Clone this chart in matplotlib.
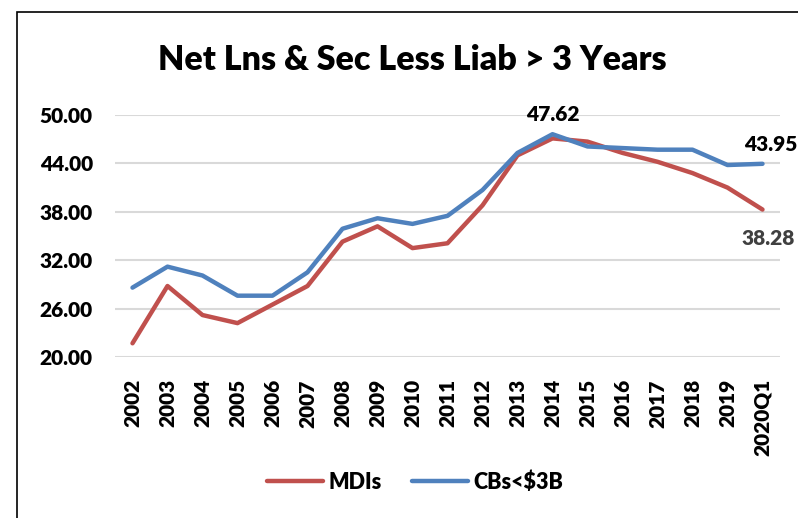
import matplotlib.pyplot as plt
from matplotlib.patches import Rectangle

plt.rcParams['font.family'] = ['Lato', 'DejaVu Sans']
plt.rcParams['font.weight'] = 'heavy'

periods = ["2002", "2003", "2004", "2005", "2006", "2007", "2008", "2009", "2010",
           "2011", "2012", "2013", "2014", "2015", "2016", "2017", "2018", "2019", "2020Q1"]
mdis = [21.7, 28.8, 25.2, 24.2, 26.5, 28.8, 34.3, 36.2, 33.5, 34.1,
        38.8, 45.0, 47.1, 46.7, 45.3, 44.2, 42.8, 41.0, 38.28]
cbs = [28.6, 31.2, 30.1, 27.6, 27.6, 30.5, 35.9, 37.2, 36.5, 37.5,
       40.7, 45.3, 47.62, 46.1, 45.9, 45.7, 45.7, 43.8, 43.95]
yticks = [20, 26, 32, 38, 44, 50]

red = "#C0504D"
blue = "#4F81BD"

fig = plt.figure(figsize=(7.98, 5.18), dpi=100)
ax = fig.add_axes([115 / 798, 1 - 357 / 518, (780 - 115) / 798, (357 - 115) / 518])

x = list(range(len(periods)))
ax.plot(x, mdis, color=red, lw=3.2, solid_capstyle="round", label="MDIs")
ax.plot(x, cbs, color=blue, lw=3.2, solid_capstyle="round", label="CBs<$3B")

ax.set_xlim(-0.5, len(periods) - 0.5)
ax.set_ylim(20, 50)
ax.set_yticks(yticks)
ax.set_yticklabels([f"{v:.2f}" for v in yticks])
ax.set_xticks(x)
ax.set_xticklabels(periods, rotation=90, va="top")
ax.tick_params(axis="both", length=0, labelsize=15, pad=16)
ax.grid(axis="y", color="#D9D9D9", lw=1.5)
ax.set_axisbelow(True)
for s in ax.spines.values():
    s.set_visible(False)

# value callouts
ax.annotate(f"{cbs[12]:.2f}", (12, cbs[12]), xytext=(0, 7), textcoords="offset points",
            ha="center", va="bottom", fontsize=15, color="black")
ax.annotate(f"{cbs[-1]:.2f}", (18, cbs[-1]), xytext=(6, 7), textcoords="offset points",
            ha="center", va="bottom", fontsize=15, color="black", annotation_clip=False)
ax.annotate(f"{mdis[-1]:.2f}", (18, mdis[-1]), xytext=(4, -14), textcoords="offset points",
            ha="center", va="top", fontsize=15, color="#404040", annotation_clip=False)

fig.text(412 / 798, 1 - 60 / 518, "Net Lns & Sec Less Liab > 3 Years",
         ha="center", va="center", fontsize=24.5)

handles, labels = ax.get_legend_handles_labels()
fig.legend(handles, labels, loc="center", bbox_to_anchor=(415 / 798, 1 - 482 / 518),
           ncol=2, frameon=False, fontsize=15.5, handlelength=2.6, columnspacing=1.4,
           handletextpad=0.25)

# chart border
fig.patches.append(Rectangle((17 / 798, -0.1), 1.2, 1.1 - 12 / 518, transform=fig.transFigure,
                             fill=False, edgecolor="black", lw=1.2))

fig.savefig("out.png", dpi=100)
